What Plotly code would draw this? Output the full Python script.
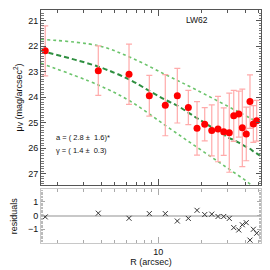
import plotly.graph_objects as go

# ---- data ----
radius = [1.64, 3.83, 6.26, 8.66, 11.18, 13.55, 16.16, 18.57, 21.0, 23.5,
          25.98, 28.46, 31.1, 33.4, 36.2, 38.3, 40.8, 43.3, 45.7, 48.2]
mu_v = [22.18, 22.96, 23.10, 23.94, 24.31, 23.94, 24.40, 25.22, 25.06, 25.30,
        25.25, 25.35, 25.39, 24.73, 24.66, 25.20, 25.44, 24.17, 25.05, 24.92]
mu_err = [0.98, 0.97, 1.18, 0.80, 1.20, 1.07, 0.67, 1.05, 0.65, 1.00,
          1.28, 0.93, 1.55, 1.00, 0.90, 1.52, 1.05, 1.05, 0.72, 0.80]
residuals = [-0.10, 0.17, -0.20, 0.14, 0.14, -0.40, -0.21, 0.38, 0.07, 0.10,
             -0.07, -0.07, -0.21, -0.88, -1.05, -0.67, -0.52, -1.79, -1.00, -1.29]

model_r = [1.53, 1.64, 3.83, 6.26, 8.66, 11.18, 13.55, 16.16, 18.57, 21.0, 23.5,
           26.0, 28.5, 31.1, 33.4, 36.2, 38.3, 40.8, 43.3, 45.7, 48.2, 52.5]
model_mu = [22.17, 22.22, 22.80, 23.30, 23.75, 24.10, 24.33, 24.60, 24.82, 25.00, 25.18,
            25.33, 25.47, 25.60, 25.68, 25.78, 25.86, 25.95, 26.02, 26.12, 26.20, 26.35]

upper_r = [1.53, 3.83, 6.36, 11.1, 17.9, 35.9, 52.5]
upper_mu = [21.73, 21.98, 22.43, 23.10, 23.68, 24.57, 25.07]
lower_r = [1.53, 3.83, 6.36, 11.1, 17.9, 28.2, 44.0, 52.5]
lower_mu = [22.67, 23.52, 24.15, 25.09, 25.90, 26.66, 27.43, 27.85]

label_name = "LW62"
fit_a = "a = ( 2.8 \u00b1  1.6)*"
fit_g = "\u03b3 = ( 1.4 \u00b1  0.3)"

FONT = "Liberation Sans, Arial, sans-serif"

fig = go.Figure()

fig.add_trace(go.Scatter(x=upper_r, y=upper_mu, mode="lines", line_shape="spline",
                         line=dict(color="#6cc46c", width=1.6, dash="dot"),
                         xaxis="x", yaxis="y", showlegend=False))
fig.add_trace(go.Scatter(x=lower_r, y=lower_mu, mode="lines", line_shape="spline",
                         line=dict(color="#6cc46c", width=1.6, dash="dot"),
                         xaxis="x", yaxis="y", showlegend=False))
fig.add_trace(go.Scatter(x=model_r, y=model_mu, mode="lines", line_shape="spline",
                         line=dict(color="#2f8f40", width=2, dash="5px,3px"),
                         xaxis="x", yaxis="y", showlegend=False))
fig.add_trace(go.Scatter(x=radius, y=mu_v, mode="markers",
                         marker=dict(color="#ff0000", size=7),
                         error_y=dict(type="data", array=mu_err, color="#ffaaaa",
                                      thickness=1.2, width=3),
                         xaxis="x", yaxis="y", showlegend=False))
fig.add_trace(go.Scatter(x=radius, y=residuals, mode="markers",
                         marker=dict(symbol="x-thin", size=5, color="#333333",
                                     line=dict(color="#333333", width=1)),
                         xaxis="x2", yaxis="y2", showlegend=False))

minor_x = [2, 3, 4, 5, 6, 7, 8, 9, 20, 30, 40, 50]
xr = [0.1854, 1.713]

common_x = dict(type="log", range=xr, ticks="inside", ticklen=6, tickwidth=1,
                mirror="ticks", showline=True, showgrid=False, zeroline=False,
                tickmode="array", tickvals=[10], automargin=False,
                minor=dict(tickmode="array", tickvals=minor_x, ticks="inside",
                           ticklen=3, showgrid=False))

fig.update_layout(
    width=270, height=270,
    margin=dict(l=33, r=17, t=2, b=35),
    paper_bgcolor="white", plot_bgcolor="white",
    font=dict(family=FONT, size=9, color="#111111"),
    xaxis=dict(**common_x, domain=[0, 1], anchor="y", showticklabels=False,
               linecolor="#555555", tickcolor="#555555",
               minor_tickcolor="#555555"),
    yaxis=dict(domain=[0.249, 1], anchor="x", range=[27.44, 20.58], automargin=False,
               tickvals=[21, 22, 23, 24, 25, 26, 27], ticks="inside", ticklen=5,
               mirror="ticks", showline=True, linecolor="#555555", tickcolor="#555555",
               showgrid=False, zeroline=False,
               minor=dict(dtick=0.1, ticks="inside", ticklen=2.5, tickcolor="#777777",
                          showgrid=False),
               title=dict(text="\u03bc<sub>V</sub> (mag/arcsec<sup>2</sup>)",
                          font=dict(size=9), standoff=4)),
    xaxis2=dict(**common_x, domain=[0, 1], anchor="y2",
                linecolor="#c8c8c8", tickcolor="#aaaaaa", minor_tickcolor="#aaaaaa",
                ticktext=["10"], tickfont=dict(size=9),
                title=dict(text="R (arcsec)", font=dict(size=9), standoff=2)),
    yaxis2=dict(domain=[0, 0.2305], anchor="x2", range=[-2.0, 1.91], automargin=False,
                tickvals=[-1, 0, 1], ticks="inside", ticklen=4,
                mirror="ticks", showline=True, linecolor="#c8c8c8", tickcolor="#aaaaaa",
                showgrid=False, zeroline=True, zerolinecolor="#c8c8c8", zerolinewidth=2,
                minor=dict(dtick=0.1, ticks="inside", ticklen=2, tickcolor="#bbbbbb",
                           showgrid=False),
                title=dict(text="residuals", font=dict(size=9), standoff=8)),
    annotations=[
        dict(text=label_name, xref="paper", yref="paper", x=0.71, y=0.957,
             showarrow=False, xanchor="center", yanchor="middle", font=dict(size=8.5)),
        dict(text=fit_a, xref="paper", yref="paper", x=0.059, y=0.452,
             showarrow=False, xanchor="left", yanchor="middle", font=dict(size=7.5)),
        dict(text=fit_g, xref="paper", yref="paper", x=0.059, y=0.396,
             showarrow=False, xanchor="left", yanchor="middle", font=dict(size=7.5)),
    ],
)

fig.write_html("out.html")
